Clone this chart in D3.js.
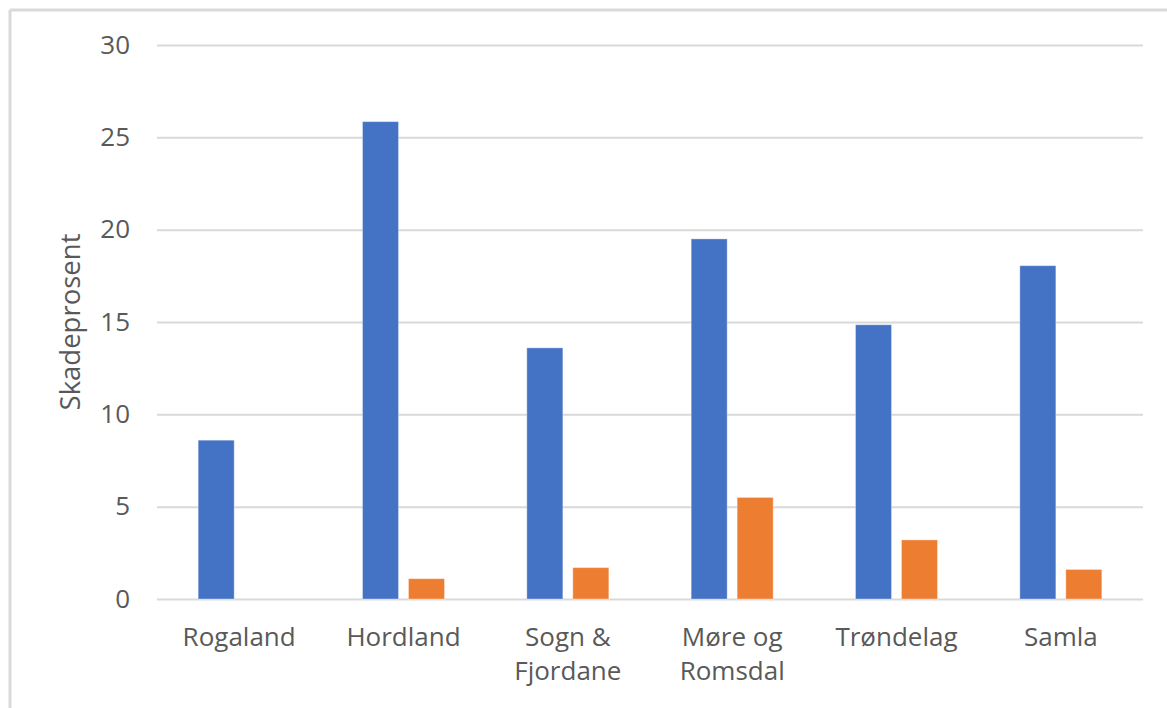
<!DOCTYPE html>
<html>
<head>
<meta charset="utf-8">
<script src="https://cdn.jsdelivr.net/npm/d3@7"></script>
<style>
  html, body { margin: 0; padding: 0; background: #fff; }
  svg { display: block; }
  text { font-family: "Open Sans", sans-serif; fill: #595959; }
</style>
</head>
<body>
<svg id="chart" width="1167" height="708"></svg>
<script>
const categories = [["Rogaland"], ["Hordland"], ["Sogn &", "Fjordane"], ["Møre og", "Romsdal"], ["Trøndelag"], ["Samla"]];
const seriesNames = ["Serie 1", "Serie 2"];
const series1 = [8.6, 25.85, 13.6, 19.5, 14.85, 18.05];
const series2 = [0, 1.1, 1.7, 5.5, 3.2, 1.6];
const yTicks = [0, 5, 10, 15, 20, 25, 30];
const colors = ["#4472C4", "#ED7D31"];
const yTitle = "Skadeprosent";

const svg = d3.select("#chart");
const W = 1167, H = 708;
const plot = { left: 157, right: 1143, top: 45, bottom: 599 };

// outer frame (top and left edges visible)
svg.append("line").attr("x1", 10).attr("x2", W).attr("y1", 10).attr("y2", 10)
  .attr("stroke", "#d9d9d9").attr("stroke-width", 3);
svg.append("line").attr("x1", 10).attr("x2", 10).attr("y1", 10).attr("y2", H)
  .attr("stroke", "#d9d9d9").attr("stroke-width", 3);

const keys = categories.map(c => c.join(" "));
const x0 = d3.scaleBand().domain(keys).range([plot.left, plot.right]).paddingInner(0).paddingOuter(0);
const half = x0.bandwidth() / 2;
const x1 = d3.scaleBand().domain(seriesNames).range([half - 41, half + 41]).paddingInner(0.217).paddingOuter(0);
const y = d3.scaleLinear().domain([0, 30]).range([plot.bottom, plot.top]);

// gridlines
const yAxis = d3.axisLeft(y).tickValues(yTicks).tickSize(-(plot.right - plot.left)).tickPadding(27).tickFormat(d3.format("d"));
const gy = svg.append("g").attr("transform", `translate(${plot.left},0)`).call(yAxis);
gy.select(".domain").remove();
gy.selectAll(".tick line").attr("stroke", "#d9d9d9").attr("stroke-width", 2);
gy.selectAll(".tick text").attr("font-size", 26).attr("fill", "#595959")
  .style("font-family", '"Open Sans", sans-serif');

// bars
const data = keys.map((k, i) => ({ key: k, values: [series1[i], series2[i]] }));
const groups = svg.append("g").selectAll("g").data(data).join("g")
  .attr("transform", d => `translate(${x0(d.key)},0)`);
groups.selectAll("rect").data(d => d.values.map((v, j) => ({ v, s: seriesNames[j], j })))
  .join("rect")
  .attr("x", d => x1(d.s))
  .attr("width", x1.bandwidth())
  .attr("y", d => y(d.v))
  .attr("height", d => y(0) - y(d.v))
  .attr("fill", d => colors[d.j])
  .attr("stroke", d => d.v > 0 ? "rgba(255,255,255,0.35)" : "none")
  .attr("stroke-width", 1);

// x labels
const xl = svg.append("g").selectAll("text").data(categories).join("text")
  .attr("text-anchor", "middle")
  .attr("font-size", 26)
  .attr("x", (d, i) => x0(keys[i]) + half)
  .attr("y", 646);
xl.selectAll("tspan").data(d => d).join("tspan")
  .attr("x", function () { return d3.select(this.parentNode).attr("x"); })
  .attr("dy", (d, i) => i === 0 ? 0 : 34)
  .text(d => d);

// y title
svg.append("text")
  .attr("transform", `translate(80,${(plot.top + plot.bottom) / 2}) rotate(-90)`)
  .attr("text-anchor", "middle")
  .attr("font-size", 27.5)
  .text(yTitle);
</script>
</body>
</html>
